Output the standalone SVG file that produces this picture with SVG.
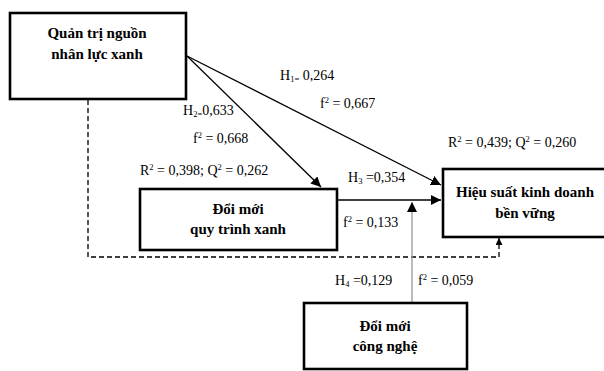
<svg xmlns="http://www.w3.org/2000/svg" width="604" height="371" viewBox="0 0 604 371">
<defs>
<marker id="ah" viewBox="0 0 10 10" refX="10" refY="5" markerWidth="10" markerHeight="10" markerUnits="userSpaceOnUse" orient="auto"><path d="M0,0 L10,5 L0,10 z" fill="#000"/></marker>
<marker id="ahs" viewBox="0 0 10 10" refX="10" refY="5" markerWidth="7" markerHeight="7" markerUnits="userSpaceOnUse" orient="auto"><path d="M0,0 L10,5 L0,10 z" fill="#000"/></marker>
<style>
.box{fill:#fff;stroke:#000;stroke-width:2.6}
.t{font-family:"Liberation Serif",serif;font-weight:bold;font-size:15px;text-anchor:middle;fill:#000}
.l{font-family:"Liberation Serif",serif;font-size:14px;fill:#000}
.c{stroke:#000;stroke-width:1.3;fill:none}
.sup{font-size:8.5px}
</style>
</defs>
<rect width="604" height="371" fill="#fff"/>
<g id="connectors">
<path class="c" d="M88,100 V257 H499 V238" stroke-dasharray="5,3" marker-end="url(#ahs)"/>
<line class="c" x1="187" y1="56" x2="321" y2="187" marker-end="url(#ah)"/>
<line class="c" x1="187" y1="56" x2="441" y2="185" marker-end="url(#ah)"/>
<line class="c" x1="337" y1="200" x2="441" y2="200" marker-end="url(#ah)"/>
<line x1="412" y1="303" x2="412" y2="202" stroke="#999" stroke-width="1.3" marker-end="url(#ah)"/>
</g>
<g id="n1">
<rect class="box" x="10" y="13" width="176" height="86"/>
<text class="t" x="97" y="38">Quản trị nguồn</text>
<text class="t" x="97" y="59">nhân lực xanh</text>
</g>
<g id="n2">
<rect class="box" x="140" y="189" width="197" height="61"/>
<text class="t" x="238" y="214">Đổi mới</text>
<text class="t" x="238" y="234">quy trình xanh</text>
</g>
<g id="n3">
<rect class="box" x="443" y="169" width="164" height="68"/>
<text class="t" x="525" y="197">Hiệu suất kinh doanh</text>
<text class="t" x="525" y="218">bền vững</text>
</g>
<g id="n4">
<rect class="box" x="304" y="303" width="163" height="66"/>
<text class="t" x="385" y="331">Đổi mới</text>
<text class="t" x="385" y="351">công nghệ</text>
</g>
<g id="labels">
<text class="l" x="280" y="80">H<tspan class="sup" dy="2">1=</tspan><tspan dy="-2"> 0,264</tspan></text>
<text class="l" x="320" y="108">f<tspan class="sup" dy="-5">2</tspan><tspan dy="5"> = 0,667</tspan></text>
<text class="l" x="183" y="115">H<tspan class="sup" dy="2">2=</tspan><tspan dy="-2">0,633</tspan></text>
<text class="l" x="193" y="143">f<tspan class="sup" dy="-5">2</tspan><tspan dy="5"> = 0,668</tspan></text>
<text class="l" x="140" y="175">R<tspan class="sup" dy="-5">2</tspan><tspan dy="5"> = 0,398; Q</tspan><tspan class="sup" dy="-5">2</tspan><tspan dy="5"> = 0,262</tspan></text>
<text class="l" x="348" y="182">H<tspan class="sup" dy="2">3</tspan><tspan dy="-2"> =0,354</tspan></text>
<text class="l" x="343" y="227">f<tspan class="sup" dy="-5">2</tspan><tspan dy="5"> = 0,133</tspan></text>
<text class="l" x="448" y="147">R<tspan class="sup" dy="-5">2</tspan><tspan dy="5"> = 0,439; Q</tspan><tspan class="sup" dy="-5">2</tspan><tspan dy="5"> = 0,260</tspan></text>
<text class="l" x="335" y="285">H<tspan class="sup" dy="2">4</tspan><tspan dy="-2"> =0,129</tspan></text>
<text class="l" x="418" y="285">f<tspan class="sup" dy="-5">2</tspan><tspan dy="5"> = 0,059</tspan></text>
</g>
</svg>
